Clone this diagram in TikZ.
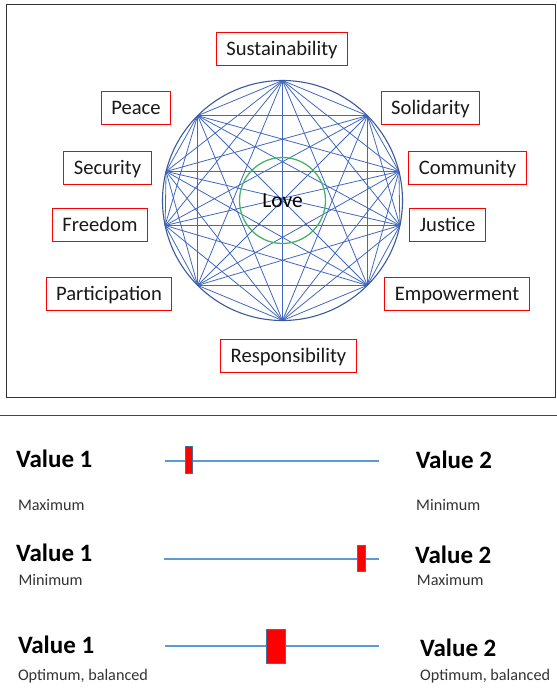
\documentclass[tikz,border=0pt]{standalone}
\usepackage{fontspec}
\setmainfont{Carlito}
\usepackage{xcolor}
\usetikzlibrary{positioning,calc}
\definecolor{webblue}{HTML}{4068BE}
\definecolor{rimblue}{HTML}{3A5A9E}
\definecolor{lovegreen}{HTML}{46B46A}
\definecolor{sliderblue}{HTML}{5B9BD5}
\definecolor{knobedge}{HTML}{41719C}
\definecolor{frame}{HTML}{333333}

\begin{document}
\begin{tikzpicture}[x=1pt, y=-1pt,
  valbox/.style={draw=red, line width=0.9pt, inner xsep=10pt, inner ysep=0pt,
                 minimum height=33pt, text height=16pt, text depth=3pt,
                 font=\fontsize{20.6}{21}\selectfont, text=black!90},
  web/.style={webblue, line width=0.8pt},
  bar/.style={sliderblue, line width=2.4pt},
  knob/.style={draw=knobedge, fill=red, line width=0.5pt, inner sep=0pt},
  big/.style={anchor=base west, inner sep=0pt, font=\fontsize{25}{26}\selectfont\bfseries},
  small/.style={anchor=base west, inner sep=0pt, font=\fontsize{16.2}{17}\selectfont, text=black!80},
]
\useasboundingbox (0,0) rectangle (557,697);

% Upper frame and separator
\draw[frame, line width=1.2pt] (6.4,4.3) rectangle (555.5,397.8);
\draw[frame!90, line width=1.2pt] (0,415.5) -- (557,415.5);

% Value web
\coordinate (C) at (282.5,200.5);
\foreach \i/\a in {1/90, 2/45, 3/14, 4/-12, 5/-45, 6/-90, 7/-135, 8/-168, 9/166, 10/135} {
  \coordinate (p\i) at ($(C)+(-\a:120)$);
}
\foreach \i in {1,...,9} {
  \pgfmathtruncatemacro{\k}{\i+1}
  \foreach \j in {\k,...,10} {
    \draw[web] (p\i) -- (p\j);
  }
}
\draw[rimblue, line width=1.1pt] (C) circle (120);
\draw[lovegreen, line width=1.3pt] (C) circle (43);
\node[font=\fontsize{21.5}{22}\selectfont] (love) at (C) {Love};

% Labels round the web
\foreach \n/\x/\y/\txt in {sus/282/48.5/Sustainability, pea/136/107.5/Peace,
    sec/107.5/168/Security, fre/100/225/Freedom, par/109/293.5/Participation,
    sol/430.5/107.5/Solidarity, com/467.5/168/Community, jus/447.5/225/Justice,
    emp/457/294/Empowerment, res/288.5/355.5/Responsibility} {
  \node[valbox] (\n) at (\x,\y) {\txt};
}

% Slider 1
\coordinate (a1) at (164.5,461);
\coordinate (b1) at (379,461);
\draw[bar, line width=2.8pt] (a1) -- (b1);
\node[knob, minimum width=7.5pt, minimum height=27pt] (k1) at (188.5,460.2) {};
\node[big] (l1) at (16,467) {Value 1};
\node[big] (r1) at (415.6,468) {Value 2};
\node[small] (ls1) at (17.8,510) {Maximum};
\node[small] (rs1) at (416,510) {Minimum};

% Slider 2
\coordinate (a2) at (164.3,558.7);
\coordinate (b2) at (379,558.7);
\draw[bar] (a2) -- (b2);
\node[knob, minimum width=8.4pt, minimum height=26.7pt] (k2) at (361.5,558.3) {};
\node[big] (l2) at (16,561.7) {Value 1};
\node[big] (r2) at (415,563.3) {Value 2};
\node[small] (ls2) at (18.3,585) {Minimum};
\node[small] (rs2) at (416.7,585) {Maximum};

% Slider 3
\coordinate (a3) at (164.5,646);
\coordinate (b3) at (379,646);
\draw[bar, line width=2pt] (a3) -- (b3);
\node[knob, minimum width=19pt, minimum height=33.4pt] (k3) at (275.8,646.3) {};
\node[big] (l3) at (17.8,653) {Value 1};
\node[big] (r3) at (420,656) {Value 2};
\node[small] (ls3) at (17.8,680.8) {Optimum, balanced};
\node[small] (rs3) at (420,680.8) {Optimum, balanced};
\end{tikzpicture}
\end{document}
